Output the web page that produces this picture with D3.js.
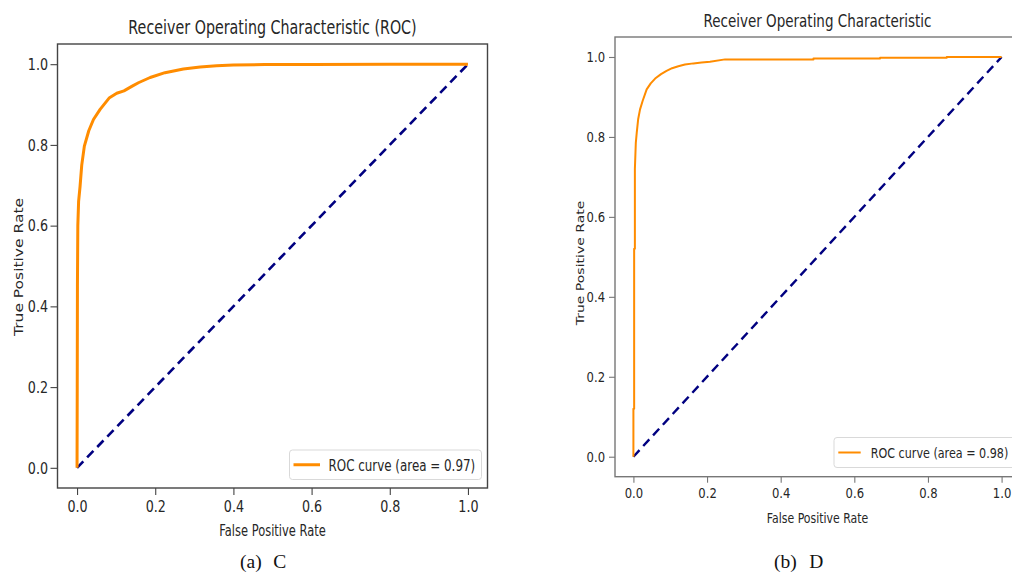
<!DOCTYPE html>
<html><head><meta charset="utf-8">
<script src="https://cdn.jsdelivr.net/npm/d3@7"></script>
<style>body{margin:0;background:#fff}svg{display:block}</style>
</head><body>
<svg id="c" width="1012" height="576"></svg>
<script>
// ---- data ----
const fprC = [0, 0.0005, 0.001, 0.002, 0.004, 0.0077, 0.012, 0.0187, 0.030, 0.042, 0.059, 0.083, 0.1015, 0.12, 0.14, 0.157, 0.187, 0.225, 0.272, 0.315, 0.357, 0.40, 0.48, 0.6, 0.8, 1.0];
const tprC = [0, 0.20, 0.45, 0.60, 0.66, 0.697, 0.75, 0.797, 0.835, 0.863, 0.888, 0.917, 0.928, 0.934, 0.945, 0.954, 0.967, 0.979, 0.988, 0.993, 0.996, 0.998, 0.999, 0.9995, 1.0, 1.0];
const fprD = [0, 0, 0.002, 0.002, 0.004, 0.004, 0.0065, 0.009, 0.013, 0.018, 0.025, 0.036, 0.047, 0.059, 0.075, 0.09, 0.105, 0.122, 0.14, 0.163, 0.185, 0.208, 0.249, 0.489, 0.489, 0.67, 0.67, 0.851, 0.851, 1.0];
const tprD = [0, 0.12, 0.12, 0.52, 0.52, 0.72, 0.785, 0.81, 0.845, 0.869, 0.89, 0.919, 0.934, 0.946, 0.957, 0.965, 0.972, 0.977, 0.981, 0.984, 0.986, 0.988, 0.994, 0.994, 0.996, 0.996, 0.998, 0.998, 1.0, 1.0];
const chanceLine = [0, 1];
const tickValues = [0, 0.2, 0.4, 0.6, 0.8, 1.0];
const titles = ["Receiver Operating Characteristic (ROC)", "Receiver Operating Characteristic"];
const legendLabels = ["ROC curve (area = 0.97)", "ROC curve (area = 0.98)"];
const captionTags = ["(a)", "(b)"];
const captionNames = ["C", "D"];
const xLabel = "False Positive Rate";
const yLabel = "True Positive Rate";

// ---- layout ----
const panels = [
  {fpr: fprC, tpr: tprC, x0: 57.5, x1: 487.5, y0: 44, y1: 488,
   fs: 15.5, tkfs: 16.5, tksx: 0.77, sx: 0.74, tfs: 19, tsx: 0.752, titleY: 34.3, tick: 7, padB: 5, padL: 2.5,
   xlabY: 536, ylabX: 22.5, ylabY: 267, lfs: 16, lsx: 0.744,
   leg: {x: 289.5, y: 450, w: 192, h: 29.5, lx0: 293.5, lx1: 320, tx: 328.5},
   curveW: 3, dashW: 2.6, spine: "#444",
   cap: {x1: 240, x2: 273.3, y: 568.3}},
  {fpr: fprD, tpr: tprD, x0: 615, x1: 1020, y0: 37, y1: 476.7,
   fs: 14, tkfs: 14.5, tksx: 0.8, sx: 0.78, tfs: 17, tsx: 0.794, titleY: 27.3, tick: 6, padB: 5, padL: 4,
   xlabY: 522.7, ylabX: 584, ylabY: 263, lfs: 14, lsx: 0.798,
   leg: {x: 834, y: 437.5, w: 182, h: 30, lx0: 838.3, lx1: 860.7, tx: 870.7},
   curveW: 2, dashW: 2.4, spine: "#777",
   cap: {x1: 774, x2: 809.3, y: 568.3}}
];

const svg = d3.select("#c");
svg.append("rect").attr("width", 1012).attr("height", 576).attr("fill", "#fff");
const FONT = "DejaVu Sans, Verdana, sans-serif";
const TXT = "#262626";

function txt(x, y, s, size, sx, anchor, rot) {
  const t = svg.append("text")
    .attr("transform", rot ? `translate(${x},${y}) rotate(-90) scale(1,${sx})` : `translate(${x},${y}) scale(${sx},1)`)
    .attr("font-family", FONT).attr("font-size", size).attr("fill", TXT)
    .attr("text-anchor", anchor).text(s);
  return t;
}

panels.forEach((p, i) => {
  const x = d3.scaleLinear().domain([-0.05, 1.05]).range([p.x0, p.x1]);
  const y = d3.scaleLinear().domain([-0.05, 1.05]).range([p.y1, p.y0]);

  // axes
  const gx = svg.append("g").attr("transform", `translate(0,${p.y1})`)
    .call(d3.axisBottom(x).tickValues(tickValues).tickFormat(d3.format(".1f")).tickSize(p.tick).tickPadding(p.padB));
  const gy = svg.append("g").attr("transform", `translate(${p.x0},0)`)
    .call(d3.axisLeft(y).tickValues(tickValues).tickFormat(d3.format(".1f")).tickSize(p.tick).tickPadding(p.padL));
  [gx, gy].forEach(g => {
    g.select(".domain").remove();
    g.selectAll(".tick line").attr("stroke", p.spine).attr("stroke-width", 1.1);
    g.selectAll("text").attr("font-family", FONT).attr("font-size", p.tkfs).attr("fill", TXT);
  });
  gx.selectAll("text").attr("transform", `scale(${p.tksx},1)`);
  gy.selectAll("text").attr("x", -(p.tick + p.padL) / p.tksx).attr("transform", `scale(${p.tksx},1)`);

  // spines
  svg.append("rect").attr("x", p.x0).attr("y", p.y0).attr("width", p.x1 - p.x0).attr("height", p.y1 - p.y0)
    .attr("fill", "none").attr("stroke", p.spine).attr("stroke-width", 1.4);

  // chance line
  svg.append("path").datum(chanceLine)
    .attr("d", d3.line().x(d => x(d)).y(d => y(d)))
    .attr("fill", "none").attr("stroke", "#000080").attr("stroke-width", p.dashW)
    .attr("stroke-dasharray", "9,5.5");

  // ROC curve
  const pts = p.fpr.map((f, k) => [f, p.tpr[k]]);
  svg.append("path").datum(pts)
    .attr("d", d3.line().x(d => x(d[0])).y(d => y(d[1])))
    .attr("fill", "none").attr("stroke", "#ff8c00").attr("stroke-width", p.curveW)
    .attr("stroke-linejoin", "round");

  // title and labels
  txt((p.x0 + p.x1) / 2, p.titleY, titles[i], p.tfs, p.tsx, "middle");
  txt((p.x0 + p.x1) / 2, p.xlabY, xLabel, p.fs, p.sx, "middle");
  txt(p.ylabX, p.ylabY, yLabel, p.fs, p.sx, "middle", true);

  // legend
  const L = p.leg;
  svg.append("rect").attr("x", L.x).attr("y", L.y).attr("width", L.w).attr("height", L.h)
    .attr("rx", 3).attr("fill", "#fff").attr("fill-opacity", 0.8)
    .attr("stroke", "#d9d9d9").attr("stroke-width", 1);
  svg.append("line").attr("x1", L.lx0).attr("x2", L.lx1)
    .attr("y1", L.y + L.h / 2).attr("y2", L.y + L.h / 2)
    .attr("stroke", "#ff8c00").attr("stroke-width", p.curveW);
  txt(L.tx, L.y + L.h / 2, legendLabels[i], p.lfs, p.lsx, "start").attr("dy", "0.36em");

  // caption
  const c = p.cap;
  svg.append("text").attr("x", c.x1).attr("y", c.y).attr("font-family", "Liberation Serif, Times New Roman, serif")
    .attr("font-size", 19.5).attr("fill", "#111").text(captionTags[i]);
  svg.append("text").attr("x", c.x2).attr("y", c.y).attr("font-family", "Liberation Serif, Times New Roman, serif")
    .attr("font-size", 19.5).attr("fill", "#111").text(captionNames[i]);
});
</script>
</body></html>
